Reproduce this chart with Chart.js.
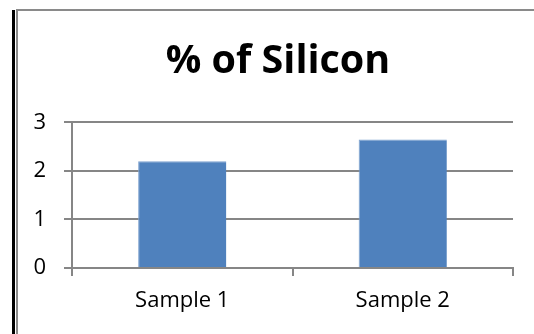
<!DOCTYPE html>
<html lang="en">
<head>
  <meta charset="UTF-8">
  <title>% of Silicon</title>
  <script src="https://cdn.jsdelivr.net/npm/chart.js"></script>
  <style>
    html, body {
      margin: 0;
      padding: 0;
      background: #fff;
      overflow: hidden;
    }
    #wrap {
      position: relative;
      width: 534px;
      height: 334px;
    }
  </style>
</head>
<body>
  <div id="wrap">
    <canvas id="siliconChart"></canvas>
  </div>

  <script>
    const chartTitle = '% of Silicon';
    const samples = ['Sample 1', 'Sample 2'];
    const siliconPct = [2.2, 2.65];
    const yTicks = [0, 1, 2, 3];

    const gridGrey = '#868686';
    const fontFamily = '"Open Sans", sans-serif';

    // black rule and grey box edge down the left and along the top
    const framePlugin = {
      id: 'frame',
      beforeDraw: function (chart) {
        const c = chart.ctx;
        c.save();
        c.fillStyle = '#000';
        c.fillRect(12, 10, 3, chart.height - 10);
        c.fillStyle = '#8a8a8a';
        c.fillRect(16, 9, chart.width - 16, 2);
        c.fillRect(16, 9, 2, chart.height - 9);
        c.restore();
      }
    };

    // keep the title centred over the whole frame, not just the plot
    const titleCentre = {
      id: 'titleCentre',
      afterLayout: function (chart) {
        const t = chart.titleBlock;
        if (t) {
          t.left = 22;
          t.right = chart.width;
          t.width = t.right - t.left;
        }
      }
    };

    const ctx = document.getElementById('siliconChart').getContext('2d');
    new Chart(ctx, {
      type: 'bar',
      data: {
        labels: samples,
        datasets: [
          {
            label: chartTitle,
            data: siliconPct,
            backgroundColor: '#4f81bd',
            borderColor: '#7ea2cf',
            borderWidth: { top: 1, left: 1, right: 0, bottom: 0 },
            barPercentage: 0.4,
            categoryPercentage: 1.0
          }
        ]
      },
      options: {
        responsive: true,
        maintainAspectRatio: false,
        animation: false,
        layout: {
          padding: { left: 22, right: 21, top: 0, bottom: 0 }
        },
        plugins: {
          legend: { display: false },
          tooltip: { enabled: false },
          title: {
            display: true,
            text: chartTitle,
            color: '#000',
            fullSize: false,
            font: { family: fontFamily, size: 39.5, weight: 'bold', lineHeight: 1.2 },
            padding: { top: 38, bottom: 37 }
          }
        },
        scales: {
          x: {
            grid: {
              display: true,
              drawOnChartArea: false,
              drawTicks: true,
              tickLength: 8,
              color: gridGrey,
              lineWidth: 2,
              offset: true
            },
            border: { display: true, color: gridGrey, width: 2 },
            ticks: {
              color: '#000',
              padding: 12,
              font: { family: fontFamily, size: 22 }
            },
            afterFit: function (scale) {
              scale.height = 66;
            }
          },
          y: {
            min: yTicks[0],
            max: yTicks[yTicks.length - 1],
            afterBuildTicks: function (scale) {
              scale.ticks = yTicks.map(v => ({ value: v }));
            },
            grid: {
              color: gridGrey,
              lineWidth: 2,
              drawTicks: true,
              tickLength: 8
            },
            border: { display: true, color: gridGrey, width: 2 },
            ticks: {
              color: '#000',
              padding: 18,
              font: { family: fontFamily, size: 22 }
            },
            afterFit: function (scale) {
              scale.width = 50;
            }
          }
        }
      },
      plugins: [framePlugin, titleCentre]
    });
  </script>
</body>
</html>
